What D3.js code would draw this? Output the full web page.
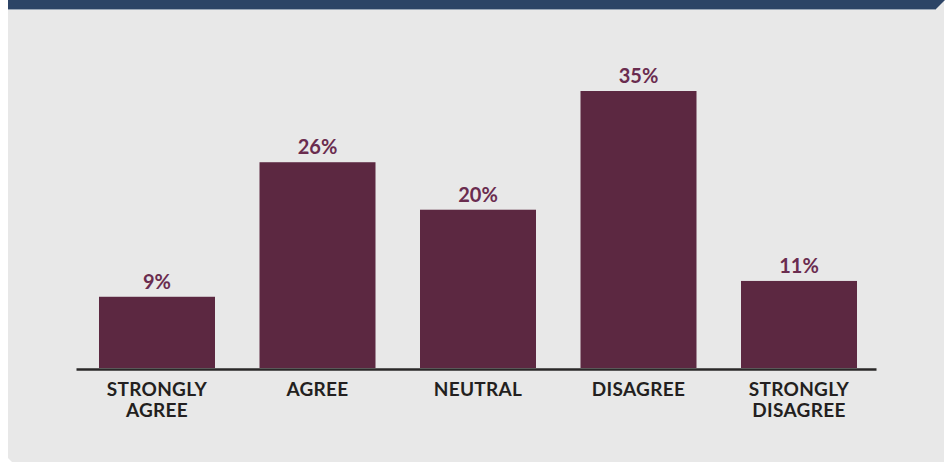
<!DOCTYPE html>
<html>
<head>
<meta charset="utf-8">
<script src="https://cdn.jsdelivr.net/npm/d3@7"></script>
<style>
  html, body { margin: 0; padding: 0; background: #ffffff; }
  svg { display: block; }
</style>
</head>
<body>
<svg id="chart" width="946" height="465"></svg>
<script>
// Survey responses (percent of respondents)
const categories = ["STRONGLY AGREE", "AGREE", "NEUTRAL", "DISAGREE", "STRONGLY DISAGREE"];
const values = [9, 26, 20, 35, 11];
const labelLines = [["STRONGLY", "AGREE"], ["AGREE"], ["NEUTRAL"], ["DISAGREE"], ["STRONGLY", "DISAGREE"]];

const svg = d3.select("#chart");

// Card background with chamfered corners
const card = d3.path();
card.moveTo(8, 0);
card.lineTo(944, 0);
card.lineTo(944, 462);
card.lineTo(12, 462);
card.lineTo(8, 458);
card.closePath();
svg.append("path").attr("d", card.toString()).attr("fill", "#e8e8e8");

// Header strip with slanted right end
const band = d3.path();
band.moveTo(8, 0);
band.lineTo(945, 0);
band.lineTo(936, 9);
band.lineTo(8, 9);
band.closePath();
svg.append("path").attr("d", band.toString()).attr("fill", "#2c4466");
svg.append("line").attr("x1", 8).attr("x2", 936).attr("y1", 9.5).attr("y2", 9.5)
  .attr("stroke", "#9aa6b6").attr("stroke-width", 1);

const x = d3.scaleBand()
  .domain(categories)
  .range([76.75, 879.25])
  .paddingInner(0.2773)
  .paddingOuter(0.1386);

const y = d3.scaleLinear()
  .domain([0, 35])
  .range([368, 91]);

const barColor = "#5c2841";
const valueColor = "#6a2c4f";
const textColor = "#231f20";

svg.append("g").selectAll("rect")
  .data(values)
  .join("rect")
  .attr("x", (d, i) => x(categories[i]))
  .attr("y", d => y(d))
  .attr("width", x.bandwidth())
  .attr("height", d => y(0) - y(d))
  .attr("fill", barColor);

// Value labels above bars
svg.append("g").selectAll("text")
  .data(values)
  .join("text")
  .attr("x", (d, i) => x(categories[i]) + x.bandwidth() / 2)
  .attr("y", d => y(d) - 8)
  .attr("text-anchor", "middle")
  .attr("font-family", "Lato, 'Open Sans', sans-serif")
  .attr("font-weight", 700)
  .attr("font-size", 20)
  .attr("fill", valueColor)
  .text(d => d + "%");

// Baseline axis (line only)
const axisScale = d3.scaleBand().domain(categories).range([76, 876]);
const axisG = svg.append("g")
  .attr("transform", `translate(0,${y(0) + 1})`)
  .call(d3.axisBottom(axisScale).tickSize(0).tickFormat(""));
axisG.select(".domain").attr("stroke", "#2a2828").attr("stroke-width", 2.5);

// Category labels (two lines where needed)
const catG = svg.append("g");
categories.forEach((c, i) => {
  const cx = x(c) + x.bandwidth() / 2;
  const t = catG.append("text")
    .attr("x", cx)
    .attr("y", 396)
    .attr("text-anchor", "middle")
    .attr("font-family", "Lato, 'Open Sans', sans-serif")
    .attr("font-weight", 700)
    .attr("font-size", 19)
    .attr("letter-spacing", 0.3)
    .attr("fill", textColor);
  labelLines[i].forEach((ln, j) => {
    t.append("tspan")
      .attr("x", cx)
      .attr("dy", j === 0 ? 0 : 21)
      .text(ln);
  });
});
</script>
</body>
</html>
